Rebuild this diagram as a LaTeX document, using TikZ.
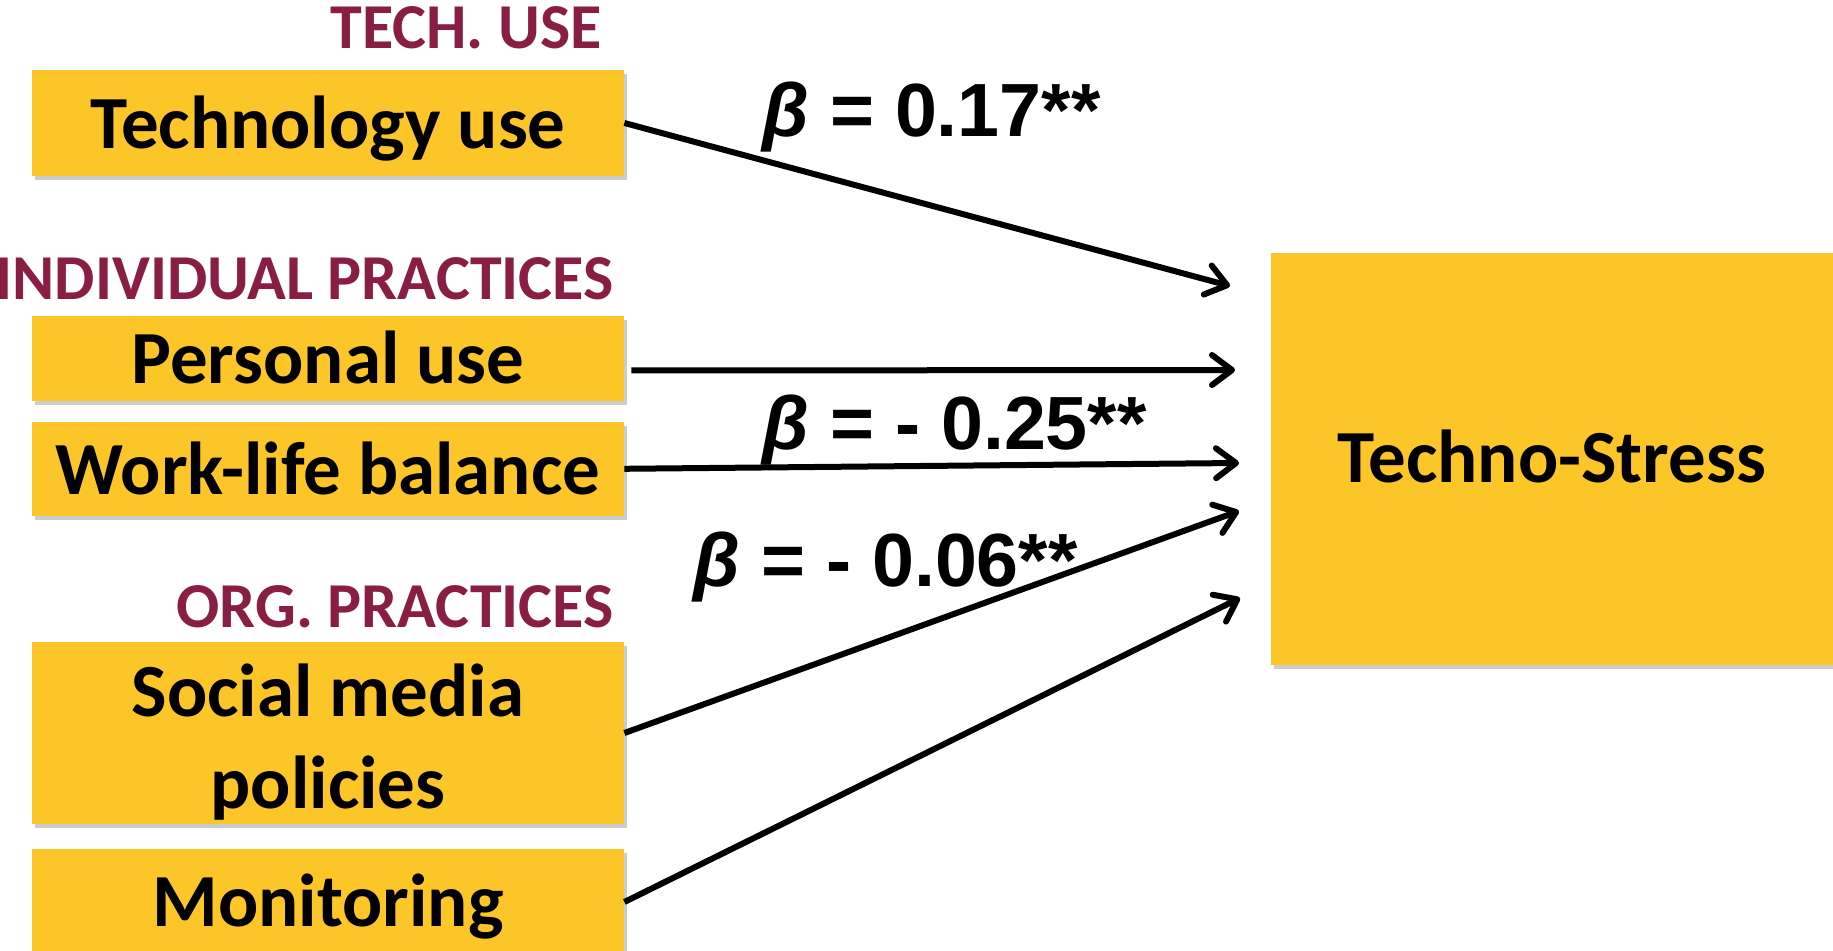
\documentclass[tikz,border=0pt]{standalone}
\usepackage{fontspec}
\setmainfont{Carlito}
\newfontfamily\arialfont{Liberation Sans}
\usetikzlibrary{arrows.meta,shadows}
\definecolor{boxyellow}{RGB}{253,198,40}
\definecolor{grpmaroon}{RGB}{138,29,68}
\begin{document}
\begin{tikzpicture}[x=0.5pt,y=-0.5pt,
  box/.style={fill=boxyellow, inner sep=0pt, align=center,
    font=\bfseries\fontsize{37.5}{46}\selectfont,
    drop shadow={shadow xshift=1.5pt,shadow yshift=-2pt,opacity=0.2,fill=black}},
  onel/.style={text depth=0pt, text height=#1},
  grp/.style={text=grpmaroon, font=\bfseries\fontsize{32}{38}\selectfont, anchor=base east, inner sep=0pt},
  betalab/.style={font=\arialfont\bfseries\fontsize{37.7}{40}\selectfont, anchor=base west, inner sep=0pt},
  arr/.style={line width=3pt, -{Straight Barb[length=10pt,width=15pt,round]}}]
\useasboundingbox (0,0) rectangle (1833,951);
\clip (0,0) rectangle (1833,951);

\node[grp] (gtech) at (602,49) {TECH. USE};
\node[grp] (gind) at (614,300) {INDIVIDUAL PRACTICES};
\node[grp] (gorg) at (614,628) {ORG. PRACTICES};

\node[box, onel=25.5pt, minimum width=296pt, minimum height=53pt] (tech) at (328,123) {Technology use};
\node[box, onel=25pt, minimum width=296pt, minimum height=42.5pt] (pers) at (328,358.5) {Personal use};
\node[box, onel=25.7pt, minimum width=296pt, minimum height=47pt] (wlb) at (328,468.8) {Work-life balance};
\node[box, minimum width=296pt, minimum height=91pt] (smp) at (328,733) {\rule{0pt}{35pt}Social media\\policies};
\node[box, onel=25pt, minimum width=296pt, minimum height=52.5pt] (mon) at (328,902) {Monitoring};
\node[box, onel=24pt, minimum width=281pt, minimum height=206pt] (ts) at (1552,459) {Techno-Stress};

\coordinate (e1) at (1230,286);
\coordinate (e2) at (1235,370);
\coordinate (e3) at (1239,463);
\coordinate (e4) at (1239,511);
\coordinate (e5) at (1240,598);

\draw[arr] (tech.east) -- (e1);
\draw[arr] ([xshift=3.5pt,yshift=-6pt]pers.east) -- (e2);
\draw[arr] (wlb.east) -- (e3);
\draw[arr] (smp.east) -- (e4);
\draw[arr] (mon.east) -- (e5);

\node[betalab] (b1) at (762,137) {{\itshape β} = 0.17**};
\node[betalab] (b2) at (762,450) {{\itshape β} = - 0.25**};
\node[betalab] (b3) at (693,587) {{\itshape β} = - 0.06**};
\end{tikzpicture}
\end{document}
